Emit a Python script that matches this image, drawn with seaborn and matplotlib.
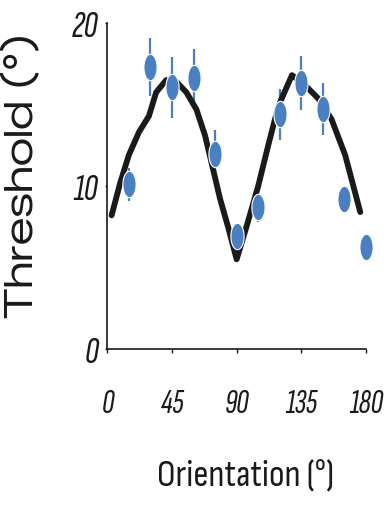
import numpy as np
import pandas as pd
import matplotlib
matplotlib.use("Agg")
import matplotlib.pyplot as plt
from matplotlib.path import Path
import seaborn as sns

# ---- data ----
orientation = [15, 30, 45, 60, 75, 90, 105, 120, 135, 150, 165, 180]
threshold = [10.1, 17.3, 16.05, 16.65, 11.95, 6.95, 8.7, 14.4, 16.3, 14.7, 9.2, 6.25]
threshold_err = [1.0, 1.8, 1.85, 1.75, 1.5, 0.6, 0.9, 1.55, 1.65, 1.6, 0.8, 0.4]

fit_x = [3, 9, 15, 22, 29, 34, 41, 48, 55, 62, 68, 73, 78.5, 84, 90, 97, 105, 112, 119, 128.5, 138, 147, 156, 165.5, 176]
fit_y = [8.2, 10.2, 11.9, 13.3, 14.3, 15.75, 16.5, 16.4, 15.75, 14.7, 13.1, 11.25, 9.2, 7.5, 5.5, 7.55, 10.0, 12.5, 14.9, 16.8, 16.15, 15.35, 14.1, 11.9, 8.4]

xticks = [0, 45, 90, 135, 180]
yticks = [0, 10, 20]

BLUE = "#4a7fc2"
TICKFONT = ["Sofia Sans Extra Condensed", "Archivo Narrow", "DejaVu Sans"]
XLABFONT = ["Sofia Sans Condensed", "Archivo Narrow", "DejaVu Sans"]
YLABFONT = ["Zalando Sans Expanded", "Encode Sans Expanded", "DejaVu Sans"]

sns.set_theme(style="ticks")
plt.rcParams["font.family"] = TICKFONT

fig = plt.figure(figsize=(3.9, 5.06), dpi=100)
ax = fig.add_axes([107.3 / 390, 1 - 350 / 506, (366 - 107.3) / 390, (350 - 24) / 506])

points = pd.DataFrame({"orientation": orientation, "threshold": threshold, "err": threshold_err})
fit = pd.DataFrame({"orientation": fit_x, "threshold": fit_y})

ax.errorbar(points["orientation"], points["threshold"], yerr=points["err"], fmt="none",
            ecolor=BLUE, elinewidth=1.6, capsize=0, zorder=1, clip_on=False)

sns.lineplot(data=fit, x="orientation", y="threshold", ax=ax, color="#1a1a1a",
             linewidth=4.2, zorder=2, sort=False)

t = np.linspace(0, 2 * np.pi, 60)
ellipse = Path(np.column_stack([0.5 * np.cos(t), np.sin(t)]), closed=True)
sns.scatterplot(data=points, x="orientation", y="threshold", ax=ax, marker=ellipse,
                s=19 ** 2, color=BLUE, edgecolor="white", linewidth=0.8, zorder=3,
                clip_on=False)

ax.set_xlim(0, 180)
ax.set_ylim(0, 20)
ax.set_xticks(xticks)
ax.set_yticks(yticks)
ax.set_xticklabels([str(v) for v in xticks], fontsize=25, style="italic", family=TICKFONT)
ax.set_yticklabels([str(v) for v in yticks], fontsize=28, style="italic", family=TICKFONT)
ax.tick_params(axis="x", length=3, width=1, pad=25, colors="#1a1a1a")
ax.tick_params(axis="y", length=1.6, width=1, pad=5, colors="#1a1a1a")
for s in ["left", "bottom"]:
    ax.spines[s].set_linewidth(1.2)
    ax.spines[s].set_color("#1a1a1a")
sns.despine(ax=ax)

ax.set_xlabel("Orientation (°)", fontsize=27, family=XLABFONT,
              color="#1a1a1a", ha="center", va="center")
ax.xaxis.set_label_coords(0.536, -0.39)
ax.set_ylabel("Threshold (°)", fontsize=28, family=YLABFONT, color="#1a1a1a",
              ha="center", va="center")
ax.yaxis.set_label_coords(-0.33, 0.535)

fig.savefig("out.png", dpi=100)
